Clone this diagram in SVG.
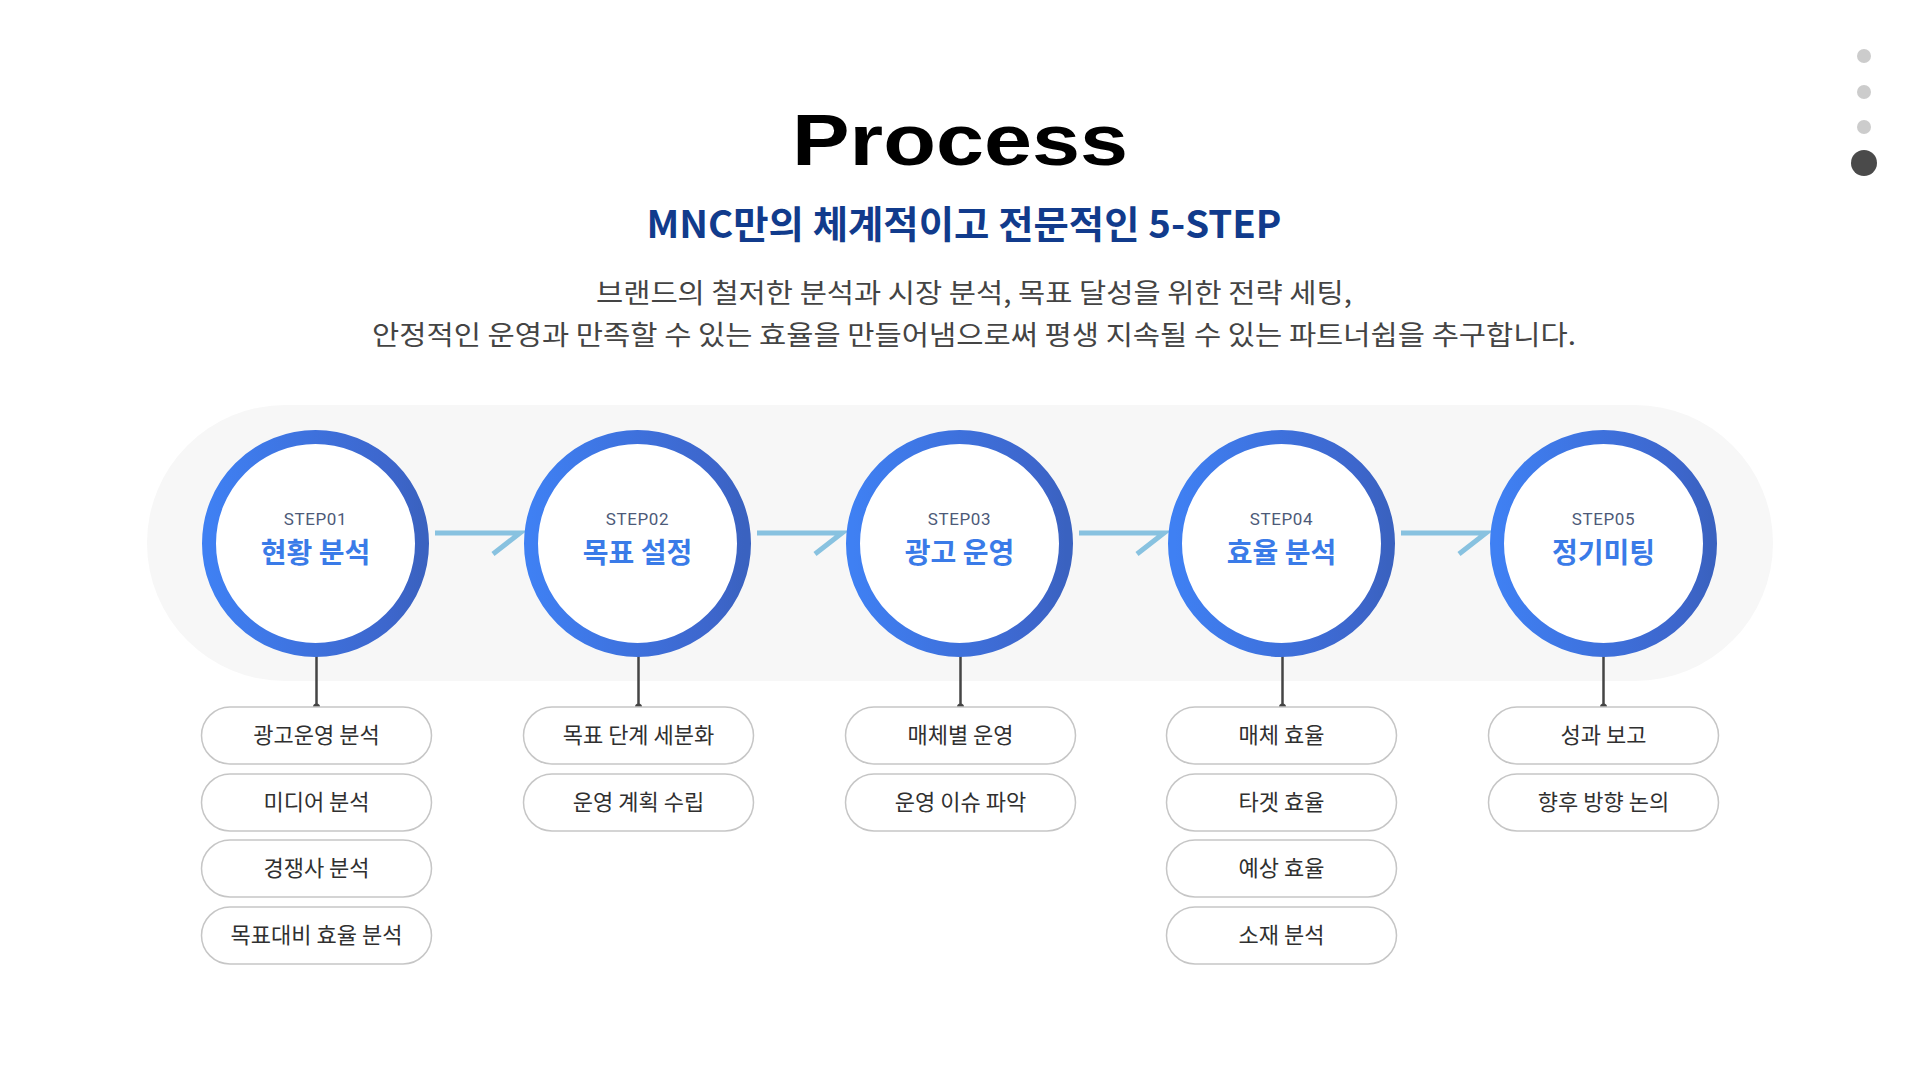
<svg xmlns="http://www.w3.org/2000/svg" width="1920" height="1080" viewBox="0 0 1920 1080">
<defs>
<linearGradient id="ringGrad" x1="0" y1="0" x2="1" y2="0">
<stop offset="0" stop-color="#3f80f3"/>
<stop offset="0.85" stop-color="#3d66cc"/>
<stop offset="1" stop-color="#3a62c0"/>
</linearGradient>
<style>
.ring{fill:#ffffff;stroke:url(#ringGrad);stroke-width:14}
.step{font-family:Roboto,"Noto Sans",sans-serif;font-size:17px;fill:#4d5a78;text-anchor:middle;letter-spacing:0.6px}
.label{font-family:"Noto Sans CJK KR","Noto Sans",sans-serif;font-weight:700;font-size:28px;fill:#3a7be8;text-anchor:middle}
.pill{fill:#ffffff;stroke:#c6c6c6;stroke-width:1.5}
.ptext{font-family:"Noto Sans CJK KR","Noto Sans",sans-serif;font-size:22px;fill:#303030;text-anchor:middle}
.arrow{fill:none;stroke:#88c2e0;stroke-width:5;stroke-linejoin:miter}
.vline{stroke:#454545;stroke-width:2.5}
.dot{fill:#454545}
</style>
</defs>
<rect width="1920" height="1080" fill="#ffffff"/>

<g id="pager">
<circle cx="1864" cy="56" r="7" fill="#cccccc"/>
<circle cx="1864" cy="92" r="7" fill="#cccccc"/>
<circle cx="1864" cy="127" r="7" fill="#cccccc"/>
<circle cx="1864" cy="163" r="13" fill="#4a4a4a"/>
</g>

<g id="header">
<text x="960" y="165" font-family="'Liberation Sans',Arial,sans-serif" font-weight="700" font-size="73" fill="#000000" text-anchor="middle" textLength="336" lengthAdjust="spacingAndGlyphs">Process</text>
<text x="964" y="238" font-family="'Noto Sans CJK KR',sans-serif" font-weight="700" font-size="38" fill="#113b8c" text-anchor="middle" textLength="635" lengthAdjust="spacingAndGlyphs">MNC만의 체계적이고 전문적인 5-STEP</text>
<text x="974" y="303" font-family="'Noto Sans CJK KR',sans-serif" font-size="27" fill="#444444" text-anchor="middle" textLength="756" lengthAdjust="spacingAndGlyphs">브랜드의 철저한 분석과 시장 분석, 목표 달성을 위한 전략 세팅,</text>
<text x="974" y="345" font-family="'Noto Sans CJK KR',sans-serif" font-size="27" fill="#444444" text-anchor="middle" textLength="1204" lengthAdjust="spacingAndGlyphs">안정적인 운영과 만족할 수 있는 효율을 만들어냄으로써 평생 지속될 수 있는 파트너쉽을 추구합니다.</text>
</g>

<rect id="band" x="147" y="405" width="1626" height="276" rx="138" fill="#f7f7f7"/>

<g id="connectors">
<polyline class="arrow" points="435,533 520,533 493,554"/>
<polyline class="arrow" points="757,533 842,533 815,554"/>
<polyline class="arrow" points="1079,533 1164,533 1137,554"/>
<polyline class="arrow" points="1401,533 1486,533 1459,554"/>
<g>
<line class="vline" x1="316.5" y1="644" x2="316.5" y2="707"/><circle class="dot" cx="316.5" cy="644" r="3.5"/><circle class="dot" cx="316.5" cy="707" r="3.5"/>
<line class="vline" x1="638.5" y1="644" x2="638.5" y2="707"/><circle class="dot" cx="638.5" cy="644" r="3.5"/><circle class="dot" cx="638.5" cy="707" r="3.5"/>
<line class="vline" x1="960.5" y1="644" x2="960.5" y2="707"/><circle class="dot" cx="960.5" cy="644" r="3.5"/><circle class="dot" cx="960.5" cy="707" r="3.5"/>
<line class="vline" x1="1282.5" y1="644" x2="1282.5" y2="707"/><circle class="dot" cx="1282.5" cy="644" r="3.5"/><circle class="dot" cx="1282.5" cy="707" r="3.5"/>
<line class="vline" x1="1603.5" y1="644" x2="1603.5" y2="707"/><circle class="dot" cx="1603.5" cy="644" r="3.5"/><circle class="dot" cx="1603.5" cy="707" r="3.5"/>
</g>
</g>

<g id="step1">
<circle class="ring" cx="315.5" cy="543.5" r="106.5"/>
<text class="step" x="315.5" y="525">STEP01</text>
<text class="label" x="315.5" y="563">현황 분석</text>
</g>
<g id="step2">
<circle class="ring" cx="637.5" cy="543.5" r="106.5"/>
<text class="step" x="637.5" y="525">STEP02</text>
<text class="label" x="637.5" y="563">목표 설정</text>
</g>
<g id="step3">
<circle class="ring" cx="959.5" cy="543.5" r="106.5"/>
<text class="step" x="959.5" y="525">STEP03</text>
<text class="label" x="959.5" y="563">광고 운영</text>
</g>
<g id="step4">
<circle class="ring" cx="1281.5" cy="543.5" r="106.5"/>
<text class="step" x="1281.5" y="525">STEP04</text>
<text class="label" x="1281.5" y="563">효율 분석</text>
</g>
<g id="step5">
<circle class="ring" cx="1603.5" cy="543.5" r="106.5"/>
<text class="step" x="1603.5" y="525">STEP05</text>
<text class="label" x="1603.5" y="563">정기미팅</text>
</g>

<g id="tasks1">
<rect class="pill" x="201.5" y="707" width="230" height="57" rx="28.5"/><text class="ptext" x="316.5" y="743">광고운영 분석</text>
<rect class="pill" x="201.5" y="774" width="230" height="57" rx="28.5"/><text class="ptext" x="316.5" y="810">미디어 분석</text>
<rect class="pill" x="201.5" y="840" width="230" height="57" rx="28.5"/><text class="ptext" x="316.5" y="876">경쟁사 분석</text>
<rect class="pill" x="201.5" y="907" width="230" height="57" rx="28.5"/><text class="ptext" x="316.5" y="943">목표대비 효율 분석</text>
</g>
<g id="tasks2">
<rect class="pill" x="523.5" y="707" width="230" height="57" rx="28.5"/><text class="ptext" x="638.5" y="743">목표 단계 세분화</text>
<rect class="pill" x="523.5" y="774" width="230" height="57" rx="28.5"/><text class="ptext" x="638.5" y="810">운영 계획 수립</text>
</g>
<g id="tasks3">
<rect class="pill" x="845.5" y="707" width="230" height="57" rx="28.5"/><text class="ptext" x="960.5" y="743">매체별 운영</text>
<rect class="pill" x="845.5" y="774" width="230" height="57" rx="28.5"/><text class="ptext" x="960.5" y="810">운영 이슈 파악</text>
</g>
<g id="tasks4">
<rect class="pill" x="1166.5" y="707" width="230" height="57" rx="28.5"/><text class="ptext" x="1281.5" y="743">매체 효율</text>
<rect class="pill" x="1166.5" y="774" width="230" height="57" rx="28.5"/><text class="ptext" x="1281.5" y="810">타겟 효율</text>
<rect class="pill" x="1166.5" y="840" width="230" height="57" rx="28.5"/><text class="ptext" x="1281.5" y="876">예상 효율</text>
<rect class="pill" x="1166.5" y="907" width="230" height="57" rx="28.5"/><text class="ptext" x="1281.5" y="943">소재 분석</text>
</g>
<g id="tasks5">
<rect class="pill" x="1488.5" y="707" width="230" height="57" rx="28.5"/><text class="ptext" x="1603.5" y="743">성과 보고</text>
<rect class="pill" x="1488.5" y="774" width="230" height="57" rx="28.5"/><text class="ptext" x="1603.5" y="810">향후 방향 논의</text>
</g>
</svg>
